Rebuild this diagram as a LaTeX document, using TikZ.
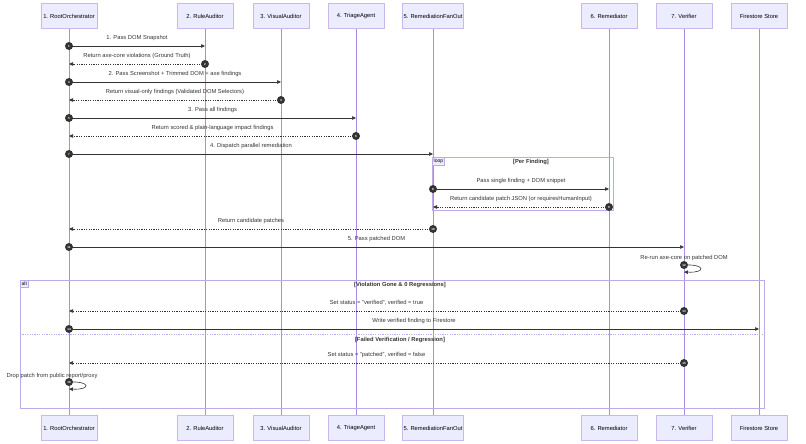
\documentclass[tikz,border=0pt]{standalone}
\usepackage{fontspec}
\setmainfont{Liberation Sans}
\usetikzlibrary{calc,arrows.meta}

\definecolor{actorline}{HTML}{9370DB}
\definecolor{actorfill}{HTML}{ECECFF}
\definecolor{msgcol}{HTML}{333333}

\tikzset{
  actor/.style={rectangle, draw=actorline!50, fill=actorfill, minimum width=56pt, minimum height=25pt, font=\fontsize{5.8}{6}\selectfont, inner sep=1pt},
  lifeline/.style={draw=actorline!80, line width=0.6pt},
  call/.style={draw=msgcol, line width=0.6pt, -{Triangle[length=4pt,width=3.5pt]}},
  reply/.style={draw=msgcol, line width=0.6pt, dash pattern=on 1.2pt off 1.2pt, -{Triangle[length=4pt,width=3.5pt]}},
  badge/.style={circle, fill=msgcol, text=white, inner sep=0pt, minimum size=8pt, font=\fontsize{3}{3}\selectfont\bfseries},
  msglabel/.style={font=\fontsize{5.8}{6}\selectfont, text=msgcol, inner sep=0pt},
  frame/.style={draw=actorline!60, line width=0.6pt},
  tab/.style={draw=actorline!60, fill=actorfill, font=\fontsize{5}{5}\selectfont, inner sep=1.5pt, anchor=north west}
}

% message from x #1 to x #2 at y #3
\newcommand{\msg}[6]{%
  \coordinate (m#5a) at (#1,#3);
  \coordinate (m#5b) at (#2,#3);
  \draw[#6] (m#5a) -- (m#5b);
  \node[badge] (n#5) at (m#5a) {#5};
  \node[msglabel] (l#5) at ($(m#5a)!0.5!(m#5b)+(0,-8)$) {#4};}
% self call at x #1, y #2
\newcommand{\selfmsg}[3]{%
  \coordinate (m#3a) at (#1,#2);
  \coordinate (m#3b) at (#1,#2+7);
  \draw[call] (m#3a) .. controls ($(m#3a)+(22,-1)$) and ($(m#3b)+(22,1)$) .. (m#3b);
  \node[badge] (n#3) at (m#3a) {#3};}

\begin{document}
\begin{tikzpicture}[x=1pt,y=-1pt]
\useasboundingbox (0,0) rectangle (806,444);

% participants
\foreach \x/\n/\t in {69/1/1. RootOrchestrator, 205/2/2. RuleAuditor, 281/3/3. VisualAuditor,
  356/4/4. TriageAgent, 433/5/5. RemediationFanOut, 609/6/6. Remediator, 684/7/7. Verifier,
  759/8/Firestore Store} {
  \draw[lifeline] (\x,28) -- (\x,415);
  \node[actor] (p\n) at (\x,16) {\t};
  \node[actor] (b\n) at (\x,428) {\t};
}

% frames
\draw[frame] (432,157) rectangle (613,210);
\node[tab] (tloop) at (432,157) {loop};
\node[msglabel, font=\fontsize{5.8}{6}\selectfont\bfseries] (floop) at (531,162) {[Per Finding]};
\draw[frame] (20,280) rectangle (764,408);
\node[tab] (talt) at (20,280) {alt};
\node[msglabel, font=\fontsize{5.8}{6}\selectfont\bfseries] (falt1) at (400,285) {[Violation Gone \& 0 Regressions]};
\draw[frame, dash pattern=on 1.2pt off 1.2pt] (20,334) -- (764,334);
\node[msglabel, font=\fontsize{5.8}{6}\selectfont\bfseries] (falt2) at (400,340) {[Failed Verification / Regression]};

% messages
\msg{69}{205}{46}{1. Pass DOM Snapshot}{1}{call}
\msg{205}{69}{64}{Return axe-core violations (Ground Truth)}{2}{reply}
\msg{69}{281}{82}{2. Pass Screenshot + Trimmed DOM + axe findings}{3}{call}
\msg{281}{69}{100}{Return visual-only findings (Validated DOM Selectors)}{4}{reply}
\msg{69}{356}{118}{3. Pass all findings}{5}{call}
\msg{356}{69}{136}{Return scored \& plain-language impact findings}{6}{reply}
\msg{69}{433}{154}{4. Dispatch parallel remediation}{7}{call}
\msg{433}{609}{189}{Pass single finding + DOM snippet}{8}{call}
\msg{609}{433}{207}{Return candidate patch JSON (or requiresHumanInput)}{9}{reply}
\msg{433}{69}{229}{Return candidate patches}{10}{reply}
\msg{69}{684}{247}{5. Pass patched DOM}{11}{call}
\selfmsg{684}{265}{12}
\node[msglabel] (s12) at (684,258) {Re-run axe-core on patched DOM};
\msg{684}{69}{311}{Set status = "verified", verified = true}{13}{reply}
\msg{69}{759}{329}{Write verified finding to Firestore}{14}{call}
\msg{684}{69}{363}{Set status = "patched", verified = false}{15}{reply}
\selfmsg{69}{382}{16}
\node[msglabel] (s16) at (52,376) {Drop patch from public report/proxy};
\end{tikzpicture}
\end{document}
